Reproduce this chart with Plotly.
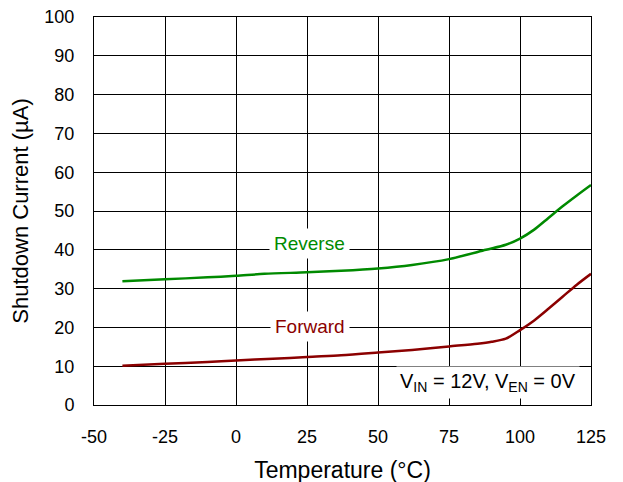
import plotly.graph_objects as go

temp_rev = [-40, -25, -10, 0, 10, 25, 37, 50, 62, 75, 88, 95, 100, 105, 110, 115, 120, 125]
rev = [31.9, 32.4, 32.9, 33.3, 33.8, 34.2, 34.6, 35.2, 36.1, 37.6, 40.0, 41.3, 42.9, 45.2, 48.2, 51.2, 54.0, 56.7]
temp_fwd = [-40, -25, -10, 0, 13, 25, 37, 50, 62, 75, 85, 90, 95, 100, 105, 110, 115, 120, 125]
fwd = [10.1, 10.6, 11.1, 11.5, 11.9, 12.4, 12.8, 13.5, 14.2, 15.1, 15.8, 16.3, 17.1, 19.3, 21.8, 24.8, 27.9, 31.0, 33.8]

x_ticks = [-50, -25, 0, 25, 50, 75, 100, 125]
y_ticks = [0, 10, 20, 30, 40, 50, 60, 70, 80, 90, 100]

font = "Liberation Sans, Arial, sans-serif"

fig = go.Figure()
fig.add_trace(go.Scatter(x=temp_rev, y=rev, mode="lines", line=dict(color="#008A00", width=2.5, shape="spline", smoothing=0.8), showlegend=False))
fig.add_trace(go.Scatter(x=temp_fwd, y=fwd, mode="lines", line=dict(color="#8B0000", width=2.5, shape="spline", smoothing=0.8), showlegend=False))

fig.add_annotation(x=26, y=41.6, text="Reverse", showarrow=False, font=dict(family=font, size=19, color="#008A00"),
                   bgcolor="white", borderpad=4)
fig.add_annotation(x=26, y=20.2, text="Forward", showarrow=False, font=dict(family=font, size=19, color="#8B0000"),
                   bgcolor="white", borderpad=4)
fig.add_annotation(x=88.6, y=5.9, text="V<sub>IN</sub> = 12V, V<sub>EN</sub> = 0V", showarrow=False,
                   font=dict(family=font, size=20, color="black"), bgcolor="white", borderpad=3)

fig.update_xaxes(range=[-50, 125], tickvals=x_ticks, ticktext=[str(v) for v in x_ticks],
                 showgrid=True, gridcolor="black", gridwidth=1, zeroline=False,
                 showline=True, linecolor="black", linewidth=1, mirror=True,
                 ticks="", ticklabelstandoff=15, automargin=False, ticklabeloverflow="allow",
                 tickfont=dict(family=font, size=18, color="black"),
                 title=dict(text="Temperature (°C)", font=dict(family=font, size=23, color="black"), standoff=16))
fig.update_yaxes(range=[0, 100], tickvals=y_ticks, ticktext=[str(v) for v in y_ticks],
                 showgrid=True, gridcolor="black", gridwidth=1, zeroline=False,
                 showline=True, linecolor="black", linewidth=1, mirror=True,
                 ticks="", ticklabelstandoff=15, automargin=False, ticklabeloverflow="allow",
                 tickfont=dict(family=font, size=18, color="black"),
                 title=dict(text="Shutdown Current (µA)", font=dict(family=font, size=22, color="black"), standoff=11))

# page body has an 8px default margin; margins compensate so the plot area lands where the reference has it
fig.update_layout(width=623, height=482, margin=dict(l=86, r=40, t=9, b=85),
                  plot_bgcolor="white", paper_bgcolor="white")

fig.write_html("out.html")
